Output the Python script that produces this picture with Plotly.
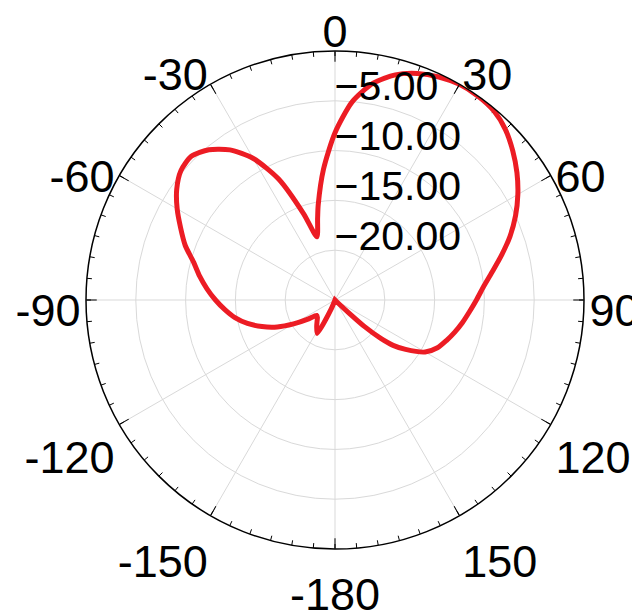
import plotly.graph_objects as go

# ---- data ----
angles_deg = [-180, -175, -170, -165, -160, -157, -152, -145, -140, -135, -130, -125,
              -120, -115, -110, -105, -100, -95, -90, -85, -80, -75, -70, -65, -60,
              -55, -50, -45, -40, -35, -30, -25, -20, -16, -12, -10, -5, 0, 5, 10,
              15, 20, 25, 30, 35, 40, 45, 50, 55, 60, 65, 70, 75, 80, 85, 90, 95,
              100, 105, 110, 115, 120, 125, 128, 130, 132, 133, 134, 136, 140, 150,
              160, 170, 180]
gain_db = [-25, -25, -25, -25, -25, -24.0, -21.2, -21.8, -22.2, -22.5, -22.6, -21.6,
           -20.2, -18.6, -17.2, -15.9, -14.8, -13.9, -13.0, -12.1, -11.2, -10.3, -9.0,
           -7.9, -6.7, -5.6, -4.8, -4.6, -5.3, -6.6, -8.6, -11.6, -15.8, -18.4, -16.6,
           -15.3, -11.8, -8.2, -5.0, -2.9, -1.6, -0.8, -0.3, 0.0, 0.0, -0.2, -0.8,
           -1.7, -2.7, -3.8, -5.0, -6.3, -7.7, -9.0, -10.05, -10.8, -11.45, -12.0,
           -12.55, -13.1, -13.65, -14.55, -16.35, -17.6, -19.0, -21.0, -23.0, -24.5,
           -25, -25, -25, -25, -25, -25]

angle_tick_vals = [0, 30, 60, 90, 120, 150, 180, 210, 240, 270, 300, 330]
angle_tick_text = ["0", "30", "60", "90", "120", "150", "-180", "-150", "-120",
                   "-90", "-60", "-30"]
minor_tick_angles = list(range(0, 360, 5))
radial_range = [-25, 0]
radial_tick_vals = [-20, -15, -10, -5]

# ---- figure ----
fig = go.Figure()

# minor angular ticks (every 5 degrees, pointing inward)
mt_theta, mt_r = [], []
for a in minor_tick_angles:
    mt_theta += [a, a, None]
    mt_r += [radial_range[1], radial_range[1] - 0.5, None]
fig.add_trace(go.Scatterpolar(r=mt_r, theta=mt_theta, mode="lines",
                              line=dict(color="black", width=1),
                              hoverinfo="skip", showlegend=False))

fig.add_trace(go.Scatterpolar(r=gain_db, theta=angles_deg, mode="lines",
                              line=dict(color="#ec1c24", width=5,
                                        shape="spline", smoothing=0.7),
                              showlegend=False))

# empty traces so the label-only overlay subplots exist
fig.add_trace(go.Scatterpolar(r=[], theta=[], subplot="polar2",
                              hoverinfo="skip", showlegend=False))
fig.add_trace(go.Scatterpolar(r=[], theta=[], subplot="polar3",
                              hoverinfo="skip", showlegend=False))

# page has an 8px body margin: page coords = figure coords + 8
W, H = 632, 604
cx, cy, R = 335 - 8, 300 - 8, 249


def dom(cx_, cy_, r_=R):
    return dict(x=[(cx_ - r_) / W, (cx_ + r_) / W],
                y=[1 - (cy_ + r_) / H, 1 - (cy_ - r_) / H])


hidden_angular = dict(rotation=90, direction="clockwise", showline=False,
                      showgrid=False, ticks="", showticklabels=False)

fig.update_layout(
    width=W, height=H,
    margin=dict(l=0, r=0, t=0, b=0),
    paper_bgcolor="white",
    showlegend=False,
    font=dict(family="Liberation Sans, Arial, sans-serif", size=41, color="black"),
    polar=dict(
        domain=dom(cx, cy),
        bgcolor="white",
        angularaxis=dict(
            rotation=90, direction="clockwise",
            tickmode="array", tickvals=angle_tick_vals, ticktext=angle_tick_text,
            ticks="inside", ticklen=10, tickwidth=1, tickcolor="black",
            showticklabels=False,
            showline=True, linecolor="black", linewidth=1.5,
            showgrid=True, gridcolor="#d9d9d9", gridwidth=1,
        ),
        radialaxis=dict(
            range=radial_range, tickmode="array", tickvals=radial_tick_vals,
            angle=90, showticklabels=False,
            showline=False, ticks="",
            showgrid=True, gridcolor="#d9d9d9", gridwidth=1,
        ),
    ),
    # angular tick labels (placed slightly lower/outward like the reference)
    polar2=dict(
        domain=dom(cx, cy + 10, 254),
        bgcolor="rgba(0,0,0,0)",
        angularaxis=dict(
            rotation=90, direction="clockwise",
            tickmode="array", tickvals=angle_tick_vals, ticktext=angle_tick_text,
            ticks="", showline=False, showgrid=False,
            tickfont=dict(size=45),
        ),
        radialaxis=dict(visible=False, range=radial_range),
    ),
    # radial tick labels (sitting just above their grid circles)
    polar3=dict(
        domain=dom(cx - 1, cy - 14),
        bgcolor="rgba(0,0,0,0)",
        angularaxis=hidden_angular,
        radialaxis=dict(
            range=radial_range, tickmode="array", tickvals=radial_tick_vals,
            tickformat=".2f", angle=90, tickangle=90,
            tickfont=dict(size=41),
            showline=False, ticks="", showgrid=False,
        ),
    ),
)

fig.write_html("out.html")
